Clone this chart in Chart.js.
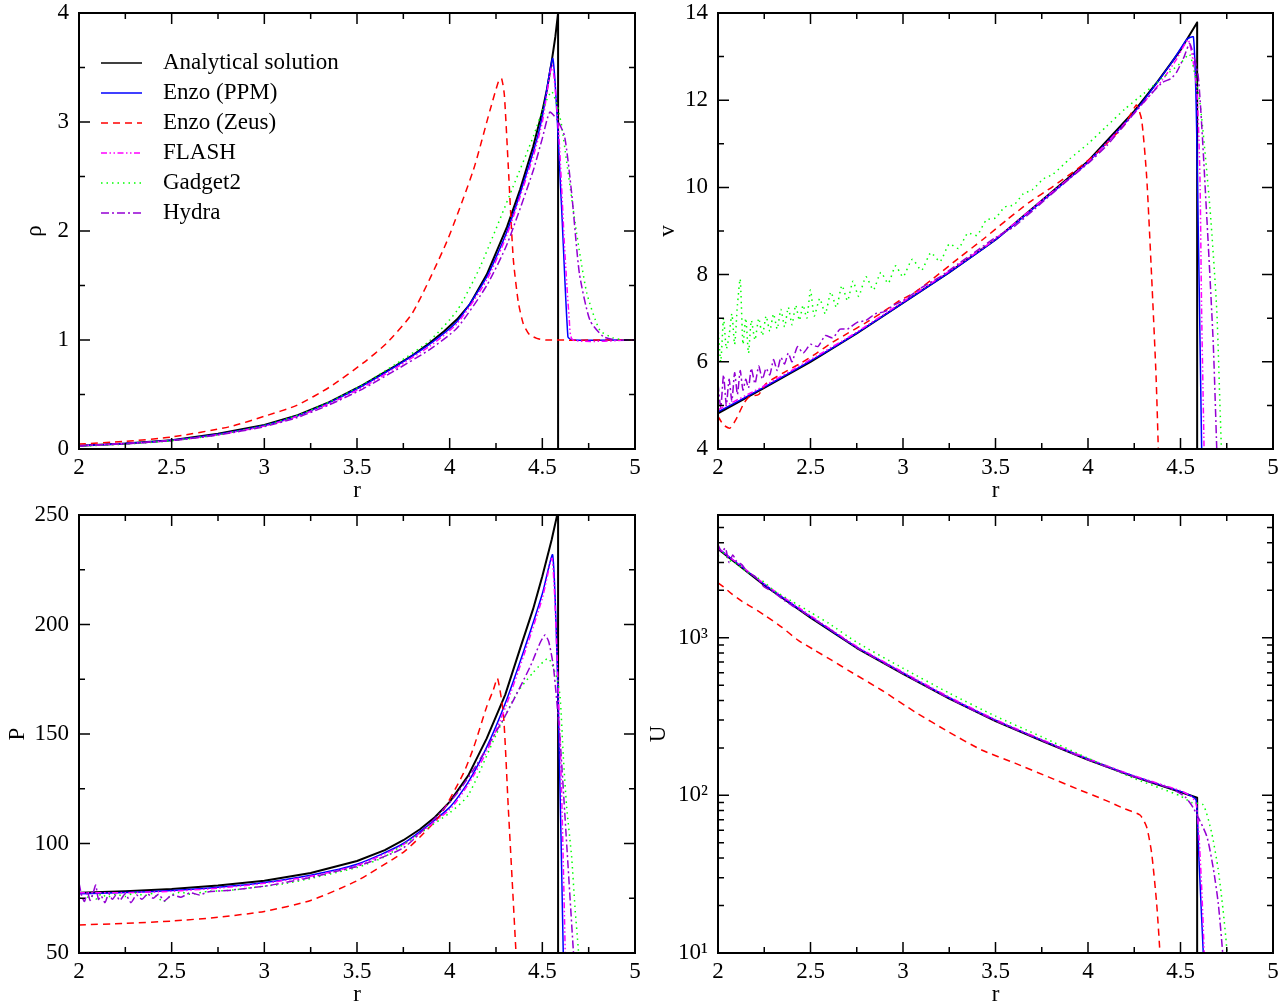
<!DOCTYPE html>
<html><head><meta charset="utf-8">
<script src="https://cdn.jsdelivr.net/npm/chart.js@4.4.1/dist/chart.umd.min.js"></script>
<style>
html,body{margin:0;padding:0;background:#fff;overflow:hidden;width:1284px;height:1004px;position:relative}
canvas{position:absolute}
</style></head><body>
<canvas id="c1" width="642" height="505" style="left:0;top:0"></canvas>
<canvas id="c2" width="642" height="505" style="left:642px;top:0"></canvas>
<canvas id="c3" width="642" height="509" style="left:0;top:500px"></canvas>
<canvas id="c4" width="642" height="509" style="left:642px;top:500px"></canvas>
<script>
// ---------- series names / tick labels ----------
const seriesNames = ['Analytical solution','Enzo (PPM)','Enzo (Zeus)','FLASH','Gadget2','Hydra'];
const rTicksMajor = [2,2.5,3,3.5,4,4.5,5];
const rTicksMinor = [2.25,2.75,3.25,3.75,4.25,4.75];
const rhoTicksMajor = [0,1,2,3,4];
const rhoTicksMinor = [0.5,1.5,2.5,3.5];
const vTicksMajor = [4,6,8,10,12,14];
const vTicksMinor = [5,7,9,11,13];
const pTicksMajor = [50,100,150,200,250];
const pTicksMinor = [75,125,175,225];
const uTicksMajor = [10,100,1000];
const uTickLabels = ['10\u00b9','10\u00b2','10\u00b3'];
const uTicksMinor = [20,30,40,50,60,70,80,90,200,300,400,500,600,700,800,900,2000,3000,4000,5000];

// ---------- density rho(r) ----------
const rhoAnalytic = [[2.0,0.03],[2.25,0.05],[2.5,0.08],[2.75,0.14],[3.0,0.22],[3.18,0.31],[3.35,0.43],[3.53,0.585],[3.71,0.765],[3.8,0.86],[3.89,0.97],[3.97,1.08],[4.04,1.19],[4.11,1.33],[4.2,1.6],[4.31,2.04],[4.38,2.38],[4.45,2.77],[4.5,3.1],[4.525,3.3],[4.55,3.55],[4.57,3.78],[4.585,4.0],[4.585,0]];
const rhoPPM = [[2.0,0.03],[2.25,0.05],[2.5,0.08],[2.75,0.135],[3.0,0.215],[3.18,0.305],[3.35,0.425],[3.53,0.58],[3.71,0.76],[3.89,0.96],[4.04,1.17],[4.2,1.58],[4.31,2.0],[4.45,2.72],[4.5,3.05],[4.557,3.58],[4.602,2.28],[4.638,1.03],[4.66,1.0],[5.0,1.0]];
const rhoZeus = [[2.0,0.045],[2.25,0.07],[2.5,0.11],[2.815,0.205],[3.0,0.3],[3.175,0.4],[3.354,0.57],[3.534,0.79],[3.66,0.97],[3.8,1.25],[3.984,1.9],[4.128,2.56],[4.218,3.11],[4.265,3.38],[4.28,3.4],[4.295,3.25],[4.316,2.6],[4.343,1.75],[4.37,1.35],[4.397,1.15],[4.43,1.05],[4.47,1.015],[4.52,1.0],[5.0,1.0]];
const rhoFLASH = [[2.0,0.03],[2.25,0.05],[2.5,0.078],[2.75,0.13],[3.0,0.21],[3.18,0.3],[3.35,0.415],[3.53,0.565],[3.71,0.745],[3.89,0.94],[4.04,1.15],[4.2,1.55],[4.31,1.97],[4.45,2.68],[4.5,3.0],[4.553,3.52],[4.59,2.85],[4.62,1.85],[4.645,1.2],[4.665,1.0],[5.0,1.0]];
const rhoGadget = [[2.0,0.025],[2.25,0.045],[2.5,0.075],[2.75,0.13],[3.0,0.215],[3.18,0.31],[3.35,0.43],[3.53,0.59],[3.71,0.78],[3.89,0.99],[4.04,1.27],[4.164,1.67],[4.343,2.41],[4.452,2.87],[4.51,3.15],[4.55,3.28],[4.58,3.15],[4.605,2.96],[4.63,2.65],[4.685,1.98],[4.74,1.43],[4.81,1.09],[4.88,1.02],[4.95,1.0],[5.0,1.0]];
const rhoHydra = [[2.0,0.03],[2.25,0.048],[2.5,0.077],[2.75,0.128],[3.0,0.205],[3.18,0.29],[3.35,0.405],[3.53,0.55],[3.71,0.725],[3.89,0.91],[4.04,1.11],[4.2,1.5],[4.31,1.88],[4.45,2.55],[4.5,2.85],[4.54,3.09],[4.58,3.02],[4.62,2.87],[4.658,2.35],[4.7,1.61],[4.757,1.18],[4.83,1.03],[4.9,1.0],[5.0,1.0]];

// ---------- velocity v(r) ----------
const vAnalytic = [[2.0,4.82],[2.25,5.4],[2.5,6.0],[2.75,6.65],[3.0,7.35],[3.25,8.05],[3.5,8.8],[3.75,9.7],[4.0,10.6],[4.25,11.75],[4.375,12.42],[4.5,13.15],[4.59,13.78],[4.59,0]];
const vPPM = [[2.0,4.85],[2.25,5.42],[2.5,6.02],[2.75,6.66],[3.0,7.35],[3.25,8.05],[3.5,8.8],[3.75,9.68],[4.0,10.58],[4.25,11.72],[4.45,12.85],[4.535,13.4],[4.57,13.45],[4.587,11.4],[4.614,4.1],[4.62,3.0]];
const vZeus = [[2.0,4.75],[2.03,4.55],[2.065,4.48],[2.1,4.7],[2.14,5.05],[2.17,5.2],[2.22,5.25],[2.26,5.5],[2.35,5.74],[2.44,5.95],[2.53,6.19],[2.62,6.45],[2.7,6.65],[2.8,6.9],[2.876,7.1],[2.98,7.4],[3.056,7.57],[3.16,7.9],[3.308,8.4],[3.43,8.8],[3.56,9.25],[3.68,9.65],[3.81,10.02],[3.95,10.45],[4.05,10.8],[4.137,11.16],[4.2,11.45],[4.24,11.75],[4.263,11.89],[4.29,11.55],[4.317,10.25],[4.344,7.95],[4.368,5.66],[4.38,4.0],[4.385,3.0]];
const vFLASH = [[2.0,4.9],[2.25,5.45],[2.5,6.05],[2.75,6.68],[3.0,7.38],[3.25,8.08],[3.5,8.82],[3.75,9.7],[4.0,10.58],[4.25,11.7],[4.4,12.45],[4.48,12.95],[4.542,13.38],[4.587,12.3],[4.605,10.25],[4.614,7.2],[4.627,4.1],[4.632,3.0]];
const vGadget = [[2.0,6.8],[2.015,6.0],[2.03,7.0],[2.045,6.3],[2.06,6.6],[2.075,7.1],[2.09,6.4],[2.105,7.3],[2.12,7.9],[2.135,6.4],[2.15,7.0],[2.165,6.2],[2.18,6.95],[2.2,6.5],[2.22,7.0],[2.24,6.6],[2.26,7.05],[2.28,6.7],[2.3,7.1],[2.32,6.75],[2.34,7.2],[2.36,6.8],[2.38,7.25],[2.4,6.85],[2.42,7.3],[2.44,6.95],[2.46,7.3],[2.48,7.0],[2.5,7.65],[2.52,7.05],[2.55,7.45],[2.58,7.1],[2.61,7.6],[2.64,7.25],[2.67,7.75],[2.7,7.4],[2.73,7.85],[2.76,7.5],[2.8,7.95],[2.84,7.65],[2.88,8.05],[2.92,7.8],[2.96,8.2],[3.0,7.95],[3.05,8.35],[3.1,8.1],[3.15,8.5],[3.2,8.3],[3.25,8.7],[3.3,8.6],[3.35,8.95],[3.4,8.9],[3.45,9.25],[3.5,9.3],[3.55,9.55],[3.6,9.6],[3.65,9.85],[3.7,9.95],[3.76,10.2],[3.81,10.3],[3.9,10.65],[4.0,11.0],[4.1,11.4],[4.2,11.8],[4.3,12.15],[4.4,12.5],[4.5,12.85],[4.55,13.05],[4.605,11.94],[4.66,9.48],[4.696,7.19],[4.714,4.9],[4.725,3.5]];
const vHydra = [[2.0,5.5],[2.015,4.95],[2.03,5.7],[2.045,5.0],[2.06,5.6],[2.075,5.1],[2.09,5.75],[2.105,5.25],[2.12,5.8],[2.135,5.35],[2.15,5.6],[2.165,5.4],[2.18,5.85],[2.2,5.5],[2.22,5.9],[2.24,5.6],[2.26,5.85],[2.28,5.7],[2.3,6.05],[2.32,5.8],[2.34,6.1],[2.36,5.95],[2.38,6.2],[2.4,6.0],[2.43,6.35],[2.46,6.2],[2.5,6.4],[2.54,6.35],[2.58,6.6],[2.62,6.55],[2.66,6.75],[2.7,6.75],[2.75,6.9],[2.8,6.95],[2.85,7.1],[2.9,7.15],[2.95,7.3],[3.0,7.4],[3.1,7.7],[3.2,7.95],[3.3,8.25],[3.4,8.55],[3.5,8.85],[3.6,9.1],[3.75,9.65],[3.9,10.2],[4.0,10.55],[4.1,10.95],[4.2,11.45],[4.3,11.95],[4.4,12.4],[4.45,12.5],[4.48,12.65],[4.52,13.0],[4.55,13.3],[4.596,12.54],[4.64,9.48],[4.677,6.42],[4.696,4.0],[4.7,3.5]];

// ---------- pressure P(r) ----------
const pAnalytic = [[2.0,77.5],[2.25,78.2],[2.5,79.2],[2.75,80.8],[3.0,83],[3.25,86.5],[3.5,92],[3.65,97],[3.75,101.5],[3.84,106.5],[3.92,112],[4.0,119],[4.1,131],[4.2,148],[4.3,168],[4.38,189],[4.45,207],[4.5,222],[4.55,238.6],[4.58,250],[4.585,253],[4.585,40]];
const pPPM = [[2.0,77],[2.25,77.6],[2.5,78.5],[2.75,80],[3.0,82.2],[3.25,85.5],[3.5,90.5],[3.75,100],[4.0,116.5],[4.1,128],[4.2,144],[4.3,164],[4.4,188],[4.5,214],[4.556,231.7],[4.586,162.5],[4.614,45]];
const pZeus = [[2.0,62.8],[2.25,63.5],[2.5,64.6],[2.75,66.3],[3.0,69],[3.25,74],[3.5,83],[3.75,96],[3.84,103],[3.95,113],[4.074,132],[4.13,144],[4.2,162.5],[4.235,170],[4.258,175.4],[4.29,159],[4.316,116.8],[4.34,78.8],[4.358,50],[4.365,40]];
const pFLASH = [[2.0,77.5],[2.25,77.5],[2.5,78.2],[2.75,79.6],[3.0,81.8],[3.25,85],[3.5,90],[3.75,99.5],[4.0,115.5],[4.1,127],[4.2,142],[4.3,162],[4.4,186],[4.5,212],[4.553,230],[4.59,160],[4.605,120],[4.625,45]];
const pGadget = [[2.0,75.5],[2.03,73.8],[2.06,76.5],[2.09,74.5],[2.12,77],[2.15,75.5],[2.2,76.8],[2.25,75.8],[2.3,77.5],[2.35,76.2],[2.4,77.2],[2.455,73.4],[2.5,76.5],[2.55,77.8],[2.6,76.8],[2.7,78.2],[2.8,78.5],[2.9,79.5],[3.0,80.5],[3.1,81.5],[3.25,84],[3.4,87],[3.5,89],[3.65,94],[3.84,104.7],[4.0,114],[4.1,122],[4.254,150.3],[4.362,168.6],[4.45,178],[4.532,184.5],[4.577,176],[4.596,167],[4.613,140],[4.631,117],[4.658,94],[4.676,71],[4.694,52],[4.7,45]];
const pHydra = [[2.0,82],[2.015,76],[2.03,73.5],[2.045,78],[2.06,74],[2.075,77],[2.09,81],[2.105,74.5],[2.12,76],[2.14,73],[2.16,77],[2.18,74.5],[2.2,76.5],[2.22,74],[2.25,77],[2.28,73],[2.31,76.5],[2.34,74.5],[2.37,77],[2.4,75],[2.43,76.8],[2.46,73.8],[2.5,76.5],[2.55,75.5],[2.6,77.5],[2.65,76.5],[2.7,78],[2.8,78.5],[2.9,79.5],[3.0,80.5],[3.1,82],[3.25,84.5],[3.4,87.5],[3.5,89.5],[3.75,98],[3.947,113.8],[4.05,124],[4.146,136],[4.307,159.4],[4.434,180.7],[4.49,192],[4.515,195.2],[4.535,192],[4.56,180.7],[4.596,147],[4.63,101.6],[4.667,51.4],[4.672,45]];

// ---------- internal energy U(r) ----------
const uAnalytic = [[2.0,3650],[2.25,2150],[2.5,1340],[2.75,860],[3.0,590],[3.25,411],[3.5,296],[3.75,222],[4.0,168],[4.25,131],[4.5,105],[4.59,96.6],[4.59,5]];
const uPPM = [[2.0,3700],[2.25,2180],[2.5,1360],[2.75,870],[3.0,598],[3.25,416],[3.5,300],[3.75,224],[4.0,170],[4.25,132],[4.5,106],[4.56,99],[4.585,93],[4.6,39],[4.612,19],[4.623,10],[4.625,8]];
const uZeus = [[2.0,2228],[2.03,2100],[2.074,1897],[2.13,1700],[2.182,1563],[2.254,1384],[2.344,1167],[2.434,962],[2.524,831],[2.614,720],[2.704,621],[2.885,464],[3.065,338],[3.245,253],[3.425,194],[3.605,160],[3.785,131],[3.957,108],[4.092,93.3],[4.2,82],[4.281,75],[4.317,63],[4.344,43],[4.371,20.7],[4.389,10],[4.392,8]];
const uFLASH = [[2.0,3700],[2.25,2200],[2.5,1380],[2.75,880],[3.0,605],[3.25,420],[3.5,302],[3.75,226],[4.0,171],[4.25,133],[4.5,107],[4.56,98],[4.585,88],[4.6,55],[4.615,25],[4.628,10],[4.63,8]];
const uGadget = [[2.0,3300],[2.03,3450],[2.06,3100],[2.1,2950],[2.15,2650],[2.2,2450],[2.25,2250],[2.3,2000],[2.4,1700],[2.5,1450],[2.6,1230],[2.75,935],[3.0,640],[3.25,445],[3.5,318],[3.75,235],[4.0,172],[4.25,128],[4.4,110],[4.5,99],[4.56,90],[4.623,87],[4.669,57.5],[4.704,33.7],[4.73,18.8],[4.749,11],[4.752,8]];
const uHydra = [[2.0,3900],[2.02,3500],[2.04,3700],[2.06,3000],[2.08,3350],[2.1,3050],[2.13,2900],[2.16,2600],[2.2,2450],[2.25,2100],[2.3,1950],[2.35,1750],[2.4,1600],[2.45,1480],[2.5,1350],[2.6,1140],[2.75,865],[3.0,592],[3.25,412],[3.5,297],[3.75,223],[4.0,168],[4.25,131],[4.45,110],[4.524,98],[4.57,83],[4.642,55],[4.678,34],[4.704,20.7],[4.728,10],[4.73,8]];

// ---------- styles ----------
const seriesColors = ['#000000','#0000ff','#ff0000','#ff00ff','#00ff00','#9400d3'];
const seriesDash = [[],[],[7,5],[6,2.5,1.5,2.5,1.5,2.5],[1.5,4],[8,3,2,3]];
const seriesWidth = [2,1.5,1.5,1.5,1.5,1.5];
const seriesTension = [0,0.2,0.2,0.2,0.2,0.2];
const FONT = {family:'Liberation Serif', size:23};
Chart.defaults.font.family = 'Liberation Serif';
Chart.defaults.color = '#000';

function ds(i, pts){
  return {label:seriesNames[i], data:pts.map(p=>({x:p[0],y:p[1]})),
    borderColor:seriesColors[i], backgroundColor:seriesColors[i], borderWidth:seriesWidth[i],
    borderDash:seriesDash[i], borderJoinStyle:'round', pointRadius:0, tension:seriesTension[i],
    fill:false, order:6-i};
}

function framePlugin(xMaj, xMin, yMaj, yMin, withLegend){
  return {id:'frame', afterDatasetsDraw(chart){
    const {ctx, chartArea:a} = chart; const xs = chart.scales.x, ys = chart.scales.y;
    const MAJ = 11, MIN = 6;
    ctx.save();
    ctx.setLineDash([]); ctx.strokeStyle = '#000'; ctx.lineWidth = 1.5;
    ctx.beginPath();
    const tx = (v,len)=>{const p = xs.getPixelForValue(v); ctx.moveTo(p,a.bottom); ctx.lineTo(p,a.bottom-len); ctx.moveTo(p,a.top); ctx.lineTo(p,a.top+len);};
    const ty = (v,len)=>{const p = ys.getPixelForValue(v); ctx.moveTo(a.left,p); ctx.lineTo(a.left+len,p); ctx.moveTo(a.right,p); ctx.lineTo(a.right-len,p);};
    xMaj.forEach(v=>tx(v,MAJ)); xMin.forEach(v=>tx(v,MIN));
    yMaj.forEach(v=>ty(v,MAJ)); yMin.forEach(v=>ty(v,MIN));
    ctx.stroke();
    ctx.lineWidth = 2;
    ctx.strokeRect(a.left, a.top, a.right-a.left, a.bottom-a.top);
    if (withLegend){
      ctx.font = '23px "Liberation Serif"'; ctx.textBaseline = 'middle'; ctx.textAlign = 'left';
      chart.data.datasets.forEach((d,i)=>{
        const y = 63 + i*30;
        ctx.beginPath(); ctx.lineWidth = 1.5; ctx.strokeStyle = d.borderColor; ctx.setLineDash(d.borderDash);
        ctx.moveTo(101,y); ctx.lineTo(142,y); ctx.stroke();
        ctx.setLineDash([]); ctx.fillStyle = '#000'; ctx.fillText(d.label, 163, y);
      });
    }
    ctx.restore();
  }};
}

function makeChart(id, series, c){
  const isLog = c.yType === 'logarithmic';
  new Chart(document.getElementById(id), {
    type:'line',
    data:{datasets:series.map((s,i)=>ds(i,s))},
    plugins:[framePlugin(rTicksMajor, rTicksMinor, c.yMaj, c.yMin, c.legend)],
    options:{
      responsive:false, animation:false, devicePixelRatio:1,
      layout:{padding:{left:0, right:c.padRight, top:c.padTop, bottom:0}},
      plugins:{legend:{display:false}, tooltip:{enabled:false}},
      scales:{
        x:{type:'linear', min:2, max:5,
          grid:{display:false, drawTicks:false}, border:{display:false},
          afterBuildTicks:s=>{s.ticks = rTicksMajor.map(v=>({value:v}));},
          afterFit:s=>{s.height = 56; s.paddingLeft = 0; s.paddingRight = 0;},
          ticks:{font:FONT, color:'#000', padding:5, autoSkip:false, maxRotation:0, minRotation:0, callback:v=>String(v)},
          title:{display:true, text:'r', font:FONT, color:'#000', padding:{top:0, bottom:0}}},
        y:{type:c.yType, min:c.yMin0, max:c.yMax0,
          grid:{display:false, drawTicks:false}, border:{display:false},
          afterBuildTicks:s=>{s.ticks = c.yMaj.map(v=>({value:v}));},
          afterFit:s=>{s.width = c.yWidth; s.paddingTop = 0; s.paddingBottom = 0;},
          ticks:{font:FONT, color:'#000', padding:10, autoSkip:false,
            callback:(v)=> isLog ? c.yLabels[c.yMaj.indexOf(v)] : String(v)},
          title:{display:true, text:c.title, font:FONT, color:'#000', padding:{top:c.titlePad, bottom:0}}}
      }
    }
  });
}

makeChart('c1', [rhoAnalytic,rhoPPM,rhoZeus,rhoFLASH,rhoGadget,rhoHydra],
  {yType:'linear', yMin0:0, yMax0:4, yMaj:rhoTicksMajor, yMin:rhoTicksMinor, padRight:7, padTop:13, yWidth:79, title:'\u03c1', titlePad:21, legend:true});
makeChart('c2', [vAnalytic,vPPM,vZeus,vFLASH,vGadget,vHydra],
  {yType:'linear', yMin0:4, yMax0:14, yMaj:vTicksMajor, yMin:vTicksMinor, padRight:11, padTop:13, yWidth:76, title:'v', titlePad:12, legend:false});
makeChart('c3', [pAnalytic,pPPM,pZeus,pFLASH,pGadget,pHydra],
  {yType:'linear', yMin0:50, yMax0:250, yMaj:pTicksMajor, yMin:pTicksMinor, padRight:7, padTop:15, yWidth:79, title:'P', titlePad:4, legend:false});
makeChart('c4', [uAnalytic,uPPM,uZeus,uFLASH,uGadget,uHydra],
  {yType:'logarithmic', yMin0:10, yMax0:6000, yMaj:uTicksMajor, yMin:uTicksMinor, yLabels:uTickLabels, padRight:11, padTop:15, yWidth:76, title:'U', titlePad:3, legend:false});
</script>
</body></html>
